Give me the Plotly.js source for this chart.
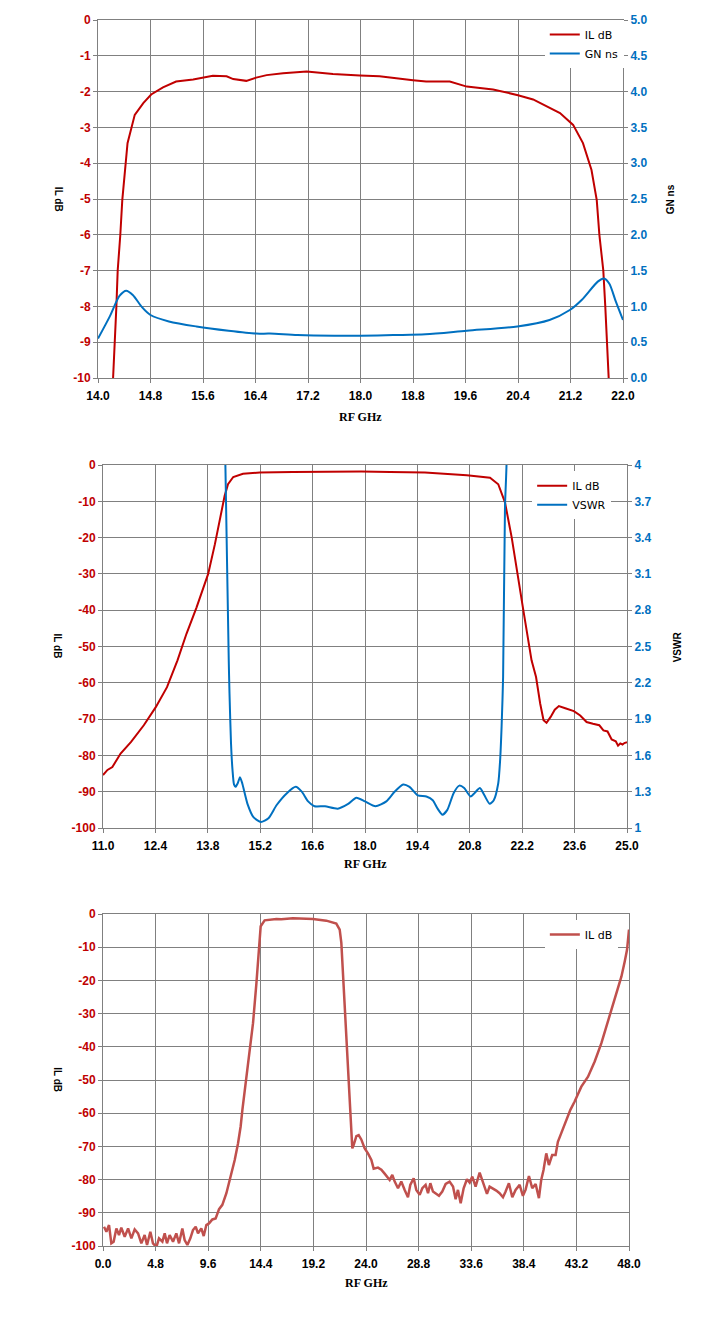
<!DOCTYPE html>
<html>
<head>
<meta charset="utf-8">
<script src="https://cdn.plot.ly/plotly-3.0.1.min.js"></script>
<style>
  body { margin: 0; background: #fff; }
  .chart { width: 718px; height: 444px; }
</style>
</head>
<body>
<div id="plot1" class="chart"></div>
<div id="plot2" class="chart"></div>
<div id="plot3" class="chart"></div>
<script>
// Wykres 1: IL dB i GN ns w pasmie 14-22 GHz
const il1_freq = [14.21, 14.23, 14.28, 14.30, 14.34, 14.37, 14.45, 14.56, 14.69, 14.81, 14.99, 15.19, 15.45, 15.60, 15.75, 15.96, 16.06, 16.26, 16.41, 16.57, 16.82, 17.18, 17.58, 17.99, 18.29, 18.80, 19.00, 19.36, 19.62, 20.02, 20.40, 20.63, 21.04, 21.24, 21.39, 21.52, 21.60, 21.64, 21.70, 21.73, 21.76, 21.78, 21.80];
const il1_db = [-10.6, -10.0, -8.0, -7.0, -6.0, -5.03, -3.44, -2.65, -2.32, -2.08, -1.88, -1.72, -1.66, -1.60, -1.56, -1.57, -1.65, -1.70, -1.61, -1.54, -1.49, -1.44, -1.51, -1.55, -1.57, -1.68, -1.72, -1.72, -1.86, -1.94, -2.10, -2.22, -2.60, -2.93, -3.44, -4.19, -5.03, -6.0, -7.0, -8.0, -9.0, -10.0, -10.7];

const gn_freq = [14.00, 14.18, 14.33, 14.43, 14.53, 14.67, 14.80, 15.08, 15.50, 15.99, 16.41, 16.62, 17.04, 17.60, 18.01, 18.50, 18.99, 19.62, 20.39, 20.88, 21.19, 21.37, 21.62, 21.71, 21.79, 21.89, 22.00];
const gn_ns = [0.55, 0.86, 1.15, 1.22, 1.16, 0.99, 0.88, 0.79, 0.72, 0.66, 0.62, 0.62, 0.60, 0.59, 0.59, 0.60, 0.61, 0.66, 0.72, 0.81, 0.95, 1.09, 1.35, 1.39, 1.32, 1.07, 0.81];

// Wykres 2: IL dB i VSWR w pasmie 11-25 GHz
const il2_freq = [11.00, 11.12, 11.25, 11.47, 11.75, 12.09, 12.41, 12.71, 12.99, 13.23, 13.50, 13.81, 13.99, 14.15, 14.25, 14.34, 14.48, 14.74, 15.19, 16.07, 16.97, 17.90, 18.67, 19.60, 20.72, 21.34, 21.56, 21.74, 21.92, 22.07, 22.23, 22.45, 22.57, 22.68, 22.77, 22.85, 22.96, 23.07, 23.18, 23.35, 23.58, 23.75, 23.92, 24.09, 24.26, 24.37, 24.48, 24.59, 24.70, 24.76, 24.82, 24.88, 24.93, 25.00];
const il2_db = [-85.4, -84.0, -83.2, -79.5, -76.3, -71.7, -66.7, -61.2, -53.8, -46.5, -39.2, -30.0, -21.8, -13.5, -8.5, -5.3, -3.3, -2.4, -2.1, -1.9, -1.8, -1.8, -1.9, -2.1, -2.8, -3.5, -5.3, -10.3, -20.0, -30.0, -40.0, -53.8, -58.4, -65.7, -70.3, -71.0, -69.4, -67.4, -66.4, -67.0, -67.8, -69.0, -70.8, -71.3, -71.7, -73.1, -73.4, -75.6, -76.1, -77.3, -76.7, -77.0, -76.6, -76.4];

const vswr_freq = [14.24, 14.27, 14.36, 14.38, 14.42, 14.46, 14.50, 14.54, 14.60, 14.66, 14.72, 14.86, 15.02, 15.22, 15.42, 15.64, 15.92, 16.15, 16.31, 16.48, 16.65, 16.93, 17.27, 17.55, 17.77, 18.00, 18.28, 18.57, 18.79, 19.02, 19.19, 19.41, 19.64, 19.81, 19.94, 20.07, 20.20, 20.37, 20.52, 20.65, 20.82, 20.93, 21.07, 21.19, 21.33, 21.44, 21.56, 21.61, 21.65, 21.69, 21.74, 21.78, 21.80];
const vswr = [4.5, 4.0, 2.38, 2.11, 1.70, 1.48, 1.36, 1.34, 1.37, 1.42, 1.37, 1.20, 1.09, 1.05, 1.08, 1.19, 1.29, 1.34, 1.30, 1.22, 1.18, 1.18, 1.16, 1.20, 1.25, 1.22, 1.18, 1.22, 1.30, 1.36, 1.34, 1.27, 1.26, 1.23, 1.16, 1.11, 1.15, 1.29, 1.35, 1.33, 1.26, 1.29, 1.33, 1.27, 1.20, 1.23, 1.37, 1.56, 1.84, 2.25, 3.65, 3.99, 4.5];

// Wykres 3: IL dB szerokopasmowo 0-48 GHz
const il3_freq = [0.09, 0.31, 0.55, 0.76, 0.97, 1.22, 1.46, 1.67, 1.98, 2.29, 2.59, 2.89, 3.20, 3.50, 3.80, 4.02, 4.32, 4.56, 4.87, 5.11, 5.42, 5.63, 5.84, 6.08, 6.39, 6.69, 6.94, 7.24, 7.45, 7.70, 7.97, 8.21, 8.46, 8.67, 8.97, 9.19, 9.43, 9.67, 9.98, 10.28, 10.59, 10.89, 11.26, 11.62, 12.02, 12.32, 12.56, 12.72, 13.23, 13.69, 14.00, 14.21, 14.39, 14.75, 15.82, 16.27, 17.33, 19.16, 20.38, 21.29, 21.60, 21.75, 21.90, 22.11, 22.30, 22.57, 22.66, 22.75, 22.87, 23.12, 23.33, 23.57, 23.88, 24.18, 24.49, 24.70, 25.09, 25.40, 25.70, 26.00, 26.16, 26.40, 26.62, 26.92, 27.22, 27.53, 27.83, 28.04, 28.35, 28.59, 28.90, 29.14, 29.44, 29.66, 29.87, 30.11, 30.42, 30.66, 30.96, 31.27, 31.63, 31.94, 32.18, 32.39, 32.64, 32.91, 33.21, 33.46, 33.70, 34.00, 34.37, 34.67, 35.04, 35.28, 35.58, 35.89, 36.19, 36.50, 36.74, 37.04, 37.35, 37.65, 38.02, 38.32, 38.56, 38.87, 39.17, 39.48, 39.78, 39.99, 40.20, 40.45, 40.69, 40.99, 41.30, 41.51, 41.82, 42.12, 42.42, 42.65, 43.04, 43.65, 44.26, 44.87, 45.48, 45.94, 46.39, 46.85, 47.31, 47.61, 47.82, 48.00];
const il3_db = [-94.2, -95.7, -93.7, -99.2, -98.7, -94.7, -96.7, -94.5, -97.2, -94.7, -97.7, -95.0, -96.2, -99.2, -96.7, -99.7, -95.7, -99.2, -100.3, -97.7, -98.7, -96.2, -99.2, -96.7, -98.7, -96.2, -99.2, -94.7, -98.2, -99.7, -97.7, -95.2, -94.2, -96.2, -94.7, -97.0, -93.7, -93.2, -92.0, -91.7, -88.9, -87.6, -84.1, -79.6, -74.1, -69.1, -64.0, -59.0, -44.9, -32.9, -20.8, -9.8, -3.7, -1.9, -1.5, -1.6, -1.3, -1.5, -2.0, -2.9, -4.7, -8.7, -17.8, -30.9, -41.9, -59.0, -67.1, -70.6, -69.6, -66.9, -66.6, -67.9, -70.6, -72.1, -74.1, -76.7, -76.4, -77.0, -78.2, -79.6, -80.1, -78.6, -80.6, -82.6, -80.6, -83.1, -85.3, -81.6, -79.6, -83.1, -84.6, -82.6, -81.6, -84.1, -81.1, -83.6, -84.3, -84.9, -83.6, -81.3, -80.6, -82.1, -85.9, -83.1, -87.1, -82.6, -79.9, -80.9, -79.1, -82.1, -77.9, -80.6, -84.3, -82.1, -82.6, -83.3, -84.1, -85.3, -83.6, -81.1, -85.3, -83.1, -81.6, -84.9, -83.1, -78.9, -82.6, -81.3, -85.6, -80.1, -77.1, -72.1, -75.6, -72.6, -72.6, -68.6, -66.0, -63.5, -61.0, -59.0, -56.5, -52.0, -49.0, -44.4, -38.9, -33.9, -28.9, -23.8, -18.8, -14.3, -10.8, -4.7];

// etykiety osi IL (zwykly minus "-", jak w oryginale)
const il1_tickvals = [-10, -9, -8, -7, -6, -5, -4, -3, -2, -1, 0];
const il1_ticktext = ['-10', '-9', '-8', '-7', '-6', '-5', '-4', '-3', '-2', '-1', '0'];
const il100_tickvals = [-100, -90, -80, -70, -60, -50, -40, -30, -20, -10, 0];
const il100_ticktext = ['-100', '-90', '-80', '-70', '-60', '-50', '-40', '-30', '-20', '-10', '0'];

// kolory i czcionki
const RED = '#c00000';
const BLUE = '#0070c0';
const GRID = '#808080';
const TICK_FONT = 'Liberation Sans, Arial, sans-serif';

// wspolna konfiguracja osi
function axis(range, tick0, dtick, fmt, color){
    return {
        range: range,
        tick0: tick0,
        dtick: dtick,
        tickformat: fmt,
        showgrid: true,
        gridcolor: GRID,
        gridwidth: 1,
        zeroline: false,
        showline: true,
        linecolor: GRID,
        linewidth: 1,
        mirror: true,
        ticks: 'outside',
        ticklen: 4,
        tickcolor: GRID,
        tickfont: {family: TICK_FONT, size: 12, weight: 'bold', color: color},
        fixedrange: true
    };
}

// os IL z etykietami z tablic
function il_axis(range, vals, text){
    let a = axis(range, 0, 1, '', RED);
    a.tickmode = 'array';
    a.tickvals = vals;
    a.ticktext = text;
    return a;
}

function x_axis(range, tick0, dtick){
    let a = axis(range, tick0, dtick, '.1f', '#000');
    a.ticklabelstandoff = 3;
    return a;
}

// podpis osi jako adnotacja (pozwala obrocic tekst w dowolna strone)
function label(text, x, y, angle, family, size){
    return {
        text: text,
        xref: 'paper', yref: 'paper',
        x: x, y: y,
        xanchor: 'center', yanchor: 'middle',
        showarrow: false,
        textangle: angle,
        font: {family: family, size: size, weight: 'bold', color: '#000'}
    };
}

function legend(x, y){
    return {
        x: x, y: y,
        xanchor: 'left', yanchor: 'top',
        bgcolor: '#ffffff',
        borderwidth: 0,
        tracegroupgap: 0,
        font: {family: 'DejaVu Sans, sans-serif', size: 11, color: '#000'}
    };
}

function plot_chart(placeholder, data, layout){
    layout.paper_bgcolor = '#ffffff';
    layout.plot_bgcolor = '#ffffff';
    layout.showlegend = true;
    Plotly.newPlot(placeholder, data, layout, {displayModeBar: false, staticPlot: true});
}

// ---------- wykres 1 ----------
let y2_1 = axis([0, 5], 0, 0.5, '.1f', BLUE);
y2_1.overlaying = 'y';
y2_1.side = 'right';
y2_1.showgrid = false;
y2_1.mirror = false;

plot_chart('plot1', [
    {type: 'scatter', mode: 'lines', name: 'IL dB', x: il1_freq, y: il1_db,
     line: {color: RED, width: 2}},
    {type: 'scatter', mode: 'lines', name: 'GN ns', x: gn_freq, y: gn_ns, yaxis: 'y2',
     line: {color: BLUE, width: 2, shape: 'spline', smoothing: 0.8}}
], {
    margin: {l: 98, r: 95, t: 20, b: 66},
    xaxis: x_axis([14, 22], 14, 0.8),
    yaxis: il_axis([-10, 0], il1_tickvals, il1_ticktext),
    yaxis2: y2_1,
    legend: legend(0.851, 1),
    annotations: [
        label('IL dB', -0.074, 0.5, 90, TICK_FONT, 10),
        label('GN ns', 1.09, 0.5, -90, TICK_FONT, 10),
        label('RF GHz', 0.5, -0.108, 0, 'Liberation Serif, serif', 12)
    ]
});

// ---------- wykres 2 ----------
let y2_2 = axis([1, 4], 1, 0.3, '', BLUE);
y2_2.overlaying = 'y';
y2_2.side = 'right';
y2_2.showgrid = false;
y2_2.mirror = false;

plot_chart('plot2', [
    {type: 'scatter', mode: 'lines', name: 'IL dB', x: il2_freq, y: il2_db,
     line: {color: RED, width: 2}},
    {type: 'scatter', mode: 'lines', name: 'VSWR', x: vswr_freq, y: vswr, yaxis: 'y2',
     line: {color: BLUE, width: 2, shape: 'spline', smoothing: 0.6}}
], {
    margin: {l: 103, r: 91, t: 21, b: 60},
    xaxis: x_axis([11, 25], 11, 1.4),
    yaxis: il_axis([-100, 0], il100_tickvals, il100_ticktext),
    yaxis2: y2_2,
    legend: legend(0.819, 0.983),
    annotations: [
        label('IL dB', -0.086, 0.5, 90, TICK_FONT, 10),
        label('VSWR', 1.097, 0.5, -90, TICK_FONT, 10),
        label('RF GHz', 0.5, -0.099, 0, 'Liberation Serif, serif', 12)
    ]
});

// ---------- wykres 3 ----------
plot_chart('plot3', [
    {type: 'scatter', mode: 'lines', name: 'IL dB', x: il3_freq, y: il3_db,
     line: {color: '#c0504d', width: 2.5}}
], {
    margin: {l: 103, r: 89, t: 26, b: 86},
    xaxis: x_axis([0, 48], 0, 4.8),
    yaxis: il_axis([-100, 0], il100_tickvals, il100_ticktext),
    legend: legend(0.840, 0.982),
    annotations: [
        label('IL dB', -0.086, 0.5, 90, TICK_FONT, 10),
        label('RF GHz', 0.5, -0.111, 0, 'Liberation Serif, serif', 12)
    ]
});
</script>
</body>
</html>
